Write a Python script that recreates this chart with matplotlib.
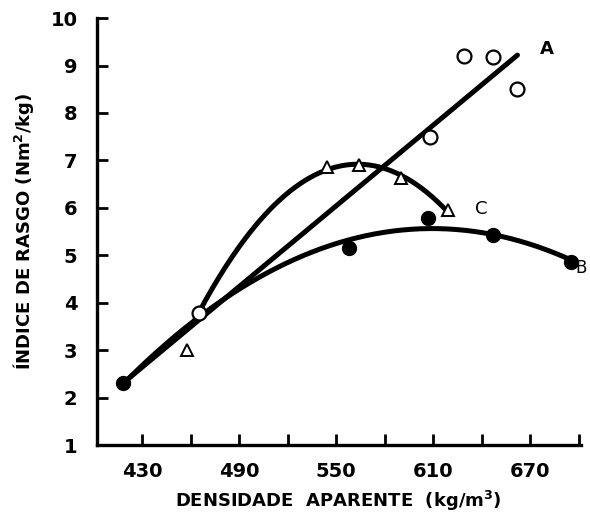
import numpy as np
import matplotlib.pyplot as plt

# pontos medidos (densidade aparente x indice de rasgo)
dens_a = [465, 608, 629, 647, 662]
rasgo_a = [3.78, 7.5, 9.2, 9.18, 8.5]
dens_b = [418, 558, 607, 647, 695]
rasgo_b = [2.3, 5.15, 5.78, 5.42, 4.86]
dens_c = [458, 544, 564, 590, 619]
rasgo_c = [3.0, 6.86, 6.9, 6.62, 5.95]

# extremos da reta A
reta_a_x = [418, 662]
reta_a_y = [2.3, 9.22]

x_ticks = [430, 460, 490, 520, 550, 580, 610, 640, 670, 700]
x_rotulos = ["430", "", "490", "", "550", "", "610", "", "670", ""]
y_ticks = [1, 2, 3, 4, 5, 6, 7, 8, 9, 10]

fig = plt.figure(figsize=(5.9, 5.17), dpi=100)
ax = fig.add_axes([0.164, 0.139, 0.82, 0.826])

lw = 3.6
# curvas ajustadas (2o grau) para B e C
cb = np.polyfit(dens_b, rasgo_b, 2)
xb = np.linspace(dens_b[0], dens_b[-1], 200)
ax.plot(xb, np.polyval(cb, xb), color="black", lw=lw, solid_capstyle="round")

# a curva C sai do ponto comum (primeiro circulo aberto)
xc_fit = [dens_a[0]] + dens_c[1:]
yc_fit = [rasgo_a[0]] + rasgo_c[1:]
cc = np.polyfit(xc_fit, yc_fit, 2)
xc = np.linspace(dens_a[0] - 3, dens_c[-1], 200)
ax.plot(xc, np.polyval(cc, xc), color="black", lw=lw, solid_capstyle="round")

ax.plot(reta_a_x, reta_a_y, color="black", lw=lw, solid_capstyle="round")

ax.plot(dens_b, rasgo_b, "o", color="black", ms=10)
ax.plot(dens_a, rasgo_a, "o", mfc="white", mec="black", mew=1.6, ms=10)
ax.plot(dens_c, rasgo_c, "^", mfc="white", mec="black", mew=1.4, ms=9)

ax.text(676, 9.35, "A", fontsize=13, fontweight="bold", va="center")
ax.text(636, 5.98, "C", fontsize=13, va="center")
ax.text(698, 4.74, "B", fontsize=12, va="center", clip_on=False)

ax.set_xlim(402, 701)
ax.set_ylim(1, 10)
ax.set_xticks(x_ticks)
ax.set_xticklabels(x_rotulos)
ax.set_yticks(y_ticks)

for lado in ["top", "right"]:
    ax.spines[lado].set_visible(False)
for lado in ["left", "bottom"]:
    ax.spines[lado].set_linewidth(2.4)

ax.tick_params(direction="in", length=8, width=2, labelsize=14)
ax.tick_params(axis="x", pad=12)
ax.tick_params(axis="y", pad=14)
for rot in ax.get_xticklabels() + ax.get_yticklabels():
    rot.set_fontweight("bold")

ax.set_xlabel("DENSIDADE  APARENTE  (kg/m$^{\\mathbf{3}}$)", fontsize=13,
              fontweight="bold", labelpad=6)
ax.set_ylabel("ÍNDICE DE RASGO (Nm$^{\\mathbf{2}}$/kg)", fontsize=13,
              fontweight="bold", labelpad=10)

fig.savefig("out.png", dpi=100)
